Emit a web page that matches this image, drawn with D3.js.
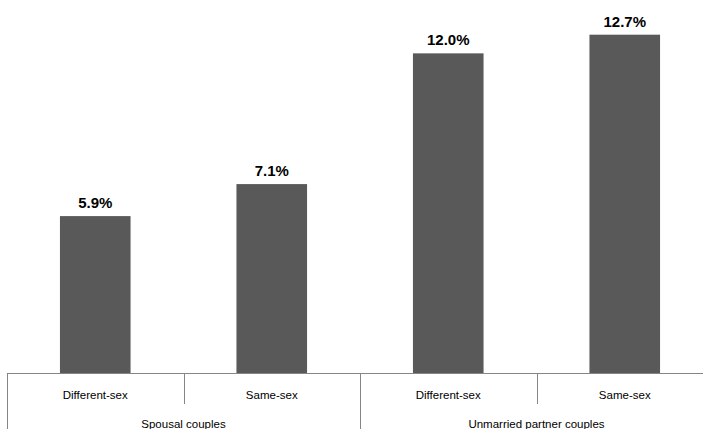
<!DOCTYPE html>
<html>
<head>
<meta charset="utf-8">
<script src="https://cdn.jsdelivr.net/npm/d3@7"></script>
<style>
  html, body { margin: 0; padding: 0; background: #fff; }
  svg { display: block; }
</style>
</head>
<body>
<svg id="chart" width="703" height="429"></svg>
<script>
const categories = ["Different-sex", "Same-sex", "Different-sex", "Same-sex"];
const groups = ["Spousal couples", "Unmarried partner couples"];
const values = [5.9, 7.1, 12.0, 12.7];
const valueLabels = ["5.9%", "7.1%", "12.0%", "12.7%"];

const W = 703, H = 429;
const left = 7, right = 713, baseline = 373.5;

const svg = d3.select("#chart");
const idx = d3.range(values.length);

const band = d3.scaleBand().domain(idx).range([left, right]).paddingInner(0).paddingOuter(0);
const xBar = d3.scaleBand().domain(idx).range([left, right]).paddingInner(0.6).paddingOuter(0.3);
const y = d3.scaleLinear().domain([0, 14]).range([baseline, 0]);
const groupScale = d3.scaleBand().domain(d3.range(groups.length)).range([left, right]);

// bars
svg.append("g").selectAll("rect").data(idx).join("rect")
  .attr("x", i => xBar(i))
  .attr("width", xBar.bandwidth())
  .attr("y", i => y(values[i]))
  .attr("height", i => y(0) - y(values[i]))
  .attr("fill", "#595959");

// value labels
svg.append("g").selectAll("text").data(idx).join("text")
  .attr("x", i => xBar(i) + xBar.bandwidth() / 2)
  .attr("y", i => y(values[i]) - 8)
  .attr("text-anchor", "middle")
  .attr("font-family", "'Liberation Sans', Arial, sans-serif")
  .attr("font-weight", "bold")
  .attr("font-size", "15px")
  .attr("fill", "#000")
  .text(i => valueLabels[i]);

// axis line
const axisG = svg.append("g");
axisG.append("line")
  .attr("x1", left).attr("x2", right)
  .attr("y1", baseline).attr("y2", baseline)
  .attr("stroke", "#868686").attr("stroke-width", 1);

// inner category dividers (short)
axisG.selectAll("line.inner").data([1, 3]).join("line")
  .attr("class", "inner")
  .attr("x1", i => Math.round(band(i)) + 0.5).attr("x2", i => Math.round(band(i)) + 0.5)
  .attr("y1", baseline).attr("y2", 404)
  .attr("stroke", "#868686").attr("stroke-width", 1);

// group dividers (long)
axisG.selectAll("line.outer").data([0, 1, 2]).join("line")
  .attr("class", "outer")
  .attr("x1", g => Math.round(g < 2 ? groupScale(g) : right) + 0.5)
  .attr("x2", g => Math.round(g < 2 ? groupScale(g) : right) + 0.5)
  .attr("y1", baseline).attr("y2", H)
  .attr("stroke", "#868686").attr("stroke-width", 1);

// category labels
svg.append("g").selectAll("text").data(idx).join("text")
  .attr("x", i => band(i) + band.bandwidth() / 2)
  .attr("y", 399)
  .attr("text-anchor", "middle")
  .attr("font-family", "'Liberation Sans', Arial, sans-serif")
  .attr("font-size", "11.5px")
  .attr("fill", "#000")
  .text(i => categories[i]);

// group labels
svg.append("g").selectAll("text").data(d3.range(groups.length)).join("text")
  .attr("x", g => groupScale(g) + groupScale.bandwidth() / 2)
  .attr("y", 428)
  .attr("text-anchor", "middle")
  .attr("font-family", "'Liberation Sans', Arial, sans-serif")
  .attr("font-size", "11.5px")
  .attr("fill", "#000")
  .text(g => groups[g]);
</script>
</body>
</html>
